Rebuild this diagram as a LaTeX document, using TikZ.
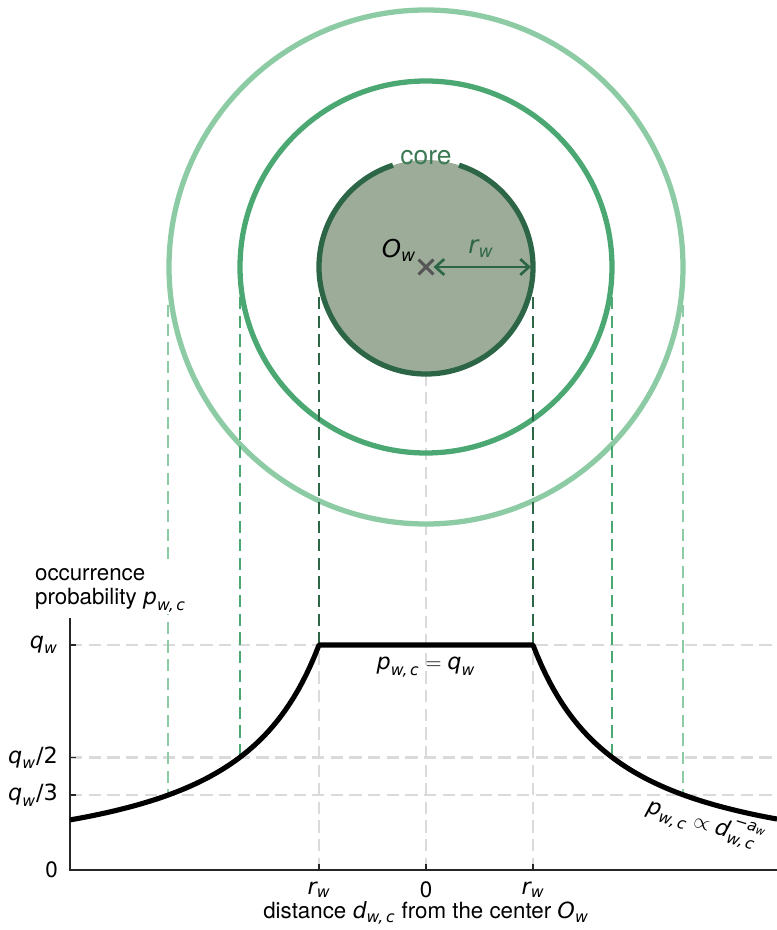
\documentclass[tikz,border=0pt]{standalone}
\usepackage{amsmath}
\usepackage{fontspec}
\setmainfont{TeX Gyre Heros}
\newfontfamily\obl{DejaVu Sans Oblique}
\newfontfamily\dvs{DejaVu Sans}
\usepackage{tikz}
\usetikzlibrary{arrows.meta,shapes.misc}
\definecolor{ringouter}{HTML}{8CCBA3}
\definecolor{ringmid}{HTML}{4BA872}
\definecolor{coreline}{HTML}{2D6646}
\definecolor{corefill}{HTML}{9DAC99}
\definecolor{coretext}{HTML}{3C7A55}
\definecolor{guidegray}{HTML}{DADADA}
\definecolor{crossgray}{HTML}{555555}
\newcommand{\sv}[1]{\text{\obl #1}}
\newcommand{\qw}{\sv{q}_{\sv{w}}}
\newcommand{\rw}{\sv{r}_{\sv{w}}}
\newcommand{\pwc}{\sv{p}_{\sv{w,\,c}}}
\newcommand{\dwc}{\sv{d}_{\sv{w,\,c}}}
\newcommand{\Ow}{\sv{O}_{\sv{w}}}

\begin{document}
\begin{tikzpicture}[x=0.2mm, y=0.2mm,
  every node/.style={font=\fontsize{12.7}{14}\selectfont},
  guide/.style={dash pattern=on 7pt off 3.6pt, line width=1.3pt},
  ring/.style={line width=3pt},
  axisline/.style={line width=0.8pt, black!85}]
  \useasboundingbox (0,0) rectangle (777,930);
  \coordinate (O) at (426,663);
  % light grey guides of the plot
  \draw[guide, guidegray] (70,285) -- (777,285);
  \draw[guide, guidegray] (70,172.5) -- (777,172.5);
  \draw[guide, guidegray] (70,135) -- (777,135);
  \draw[guide, guidegray] (319,60) -- (319,285);
  \draw[guide, guidegray] (533,60) -- (533,285);
  \draw[guide, guidegray] (426,60) -- (426,648);
  % the three rings
  \draw[ringouter, ring] (O) circle[radius=257];
  \draw[ringmid, ring] (O) circle[radius=186];
  \fill[corefill] (O) circle[radius=107];
  \draw[coreline, ring] ([shift={(108:107)}]O) arc[start angle=108, end angle=432, radius=107];
  \node[text=coretext, font=\fontsize{15}{17}\selectfont] (core) at (426,772) {core};
  % projections of the rings onto the plot
  \draw[guide, coreline] (319,633) -- (319,285);
  \draw[guide, coreline] (533,633) -- (533,285);
  \draw[guide, ringmid] (240,633) -- (240,172.5);
  \draw[guide, ringmid] (612,633) -- (612,172.5);
  \draw[guide, ringouter] (168,625) -- (168,135);
  \draw[guide, ringouter] (683,625) -- (683,135);
  % centre and radius
  \node[cross out, draw=crossgray, line width=1.7pt, minimum size=2.4mm, inner sep=0pt] (Ow) at (O) {};
  \coordinate (rimE) at (531,663);
  \draw[{Straight Barb[length=5pt,width=9pt]}-{Straight Barb[length=5pt,width=9pt]}, coreline, line width=1.5pt] (Ow.east) -- (rimE);
  \node[font=\fontsize{14}{16}\selectfont] (Olab) at (399,680) {$\Ow$};
  \node[text=coreline, font=\fontsize{14}{16}\selectfont] (rlab) at (481,681) {$\rw$};
  % axes
  \draw[axisline] (70,312) -- (70,60) -- (777,60);
  \foreach \yy in {285,172.5,135,60} \draw[axisline] (70,\yy) -- (76,\yy);
  \foreach \xx in {319,426,533} \draw[axisline] (\xx,60) -- (\xx,66);
  \node[anchor=east] (tq) at (64,285) {$\qw$};
  \node[anchor=east] (tq2) at (64,172.5) {$\qw\text{\dvs /2}$};
  \node[anchor=east] (tq3) at (64,135) {$\qw\text{\dvs /3}$};
  \node[anchor=east] (t0) at (64,60) {0};
  \node (tr1) at (319,40) {$\rw$};
  \node (tz) at (426,40) {0};
  \node (tr2) at (533,40) {$\rw$};
  \node (xlab) at (426,17) {distance $\dwc$ from the center $\Ow$};
  \node[anchor=west, align=left, fill=white, inner sep=1pt] (ylab) at (33,340) {occurrence\\probability $\pwc$};
  % occurrence probability
  \draw[line width=2.9pt, line join=round]
    plot[domain=356:107, samples=60] ({426-\x},{60+225*(107/\x)^1.25})
    -- (533,285)
    -- plot[domain=107:351, samples=60] ({426+\x},{60+225*(107/\x)^1.25});
  \node (flat) at (426,263) {$\pwc = \qw$};
  \node[rotate=-17] (tail) at (706,107) {$\pwc \propto \sv{d}^{\raisebox{1.2pt}{$\scriptstyle\,\sv{−a}_{\sv{w}}$}}_{\sv{w,\,c}}$};
\end{tikzpicture}
\end{document}
